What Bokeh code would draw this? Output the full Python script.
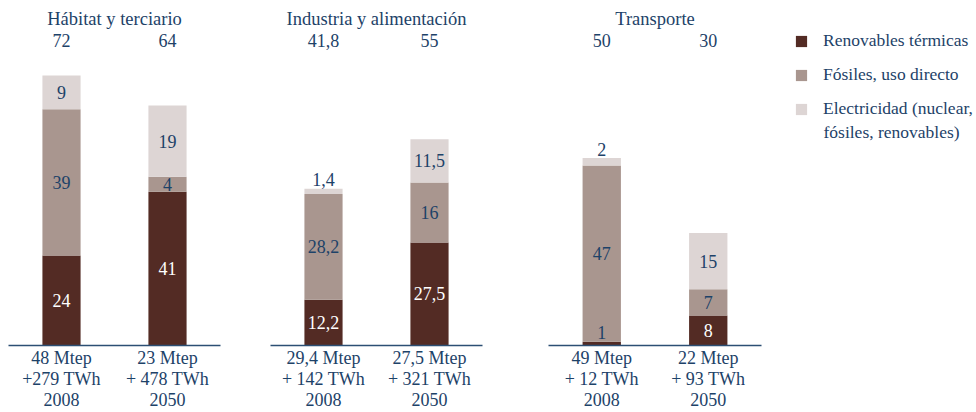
from bokeh.plotting import figure
from bokeh.models import ColumnDataSource, FactorRange, Range1d, LabelSet, Legend, LegendItem, Label
from bokeh.layouts import row
from bokeh.embed import file_html
from bokeh.resources import INLINE
from bokeh.core.properties import value

# ---------------- data ----------------
years = ["2008", "2050"]
sectors = ["Hábitat y terciario", "Industria y alimentación", "Transporte"]
renovables = [[24, 41], [12.2, 27.5], [1, 8]]
fosiles = [[39, 4], [28.2, 16], [47, 7]]
electricidad = [[9, 19], [1.4, 11.5], [2, 15]]
mtep = [["48 Mtep", "23 Mtep"], ["29,4 Mtep", "27,5 Mtep"], ["49 Mtep", "22 Mtep"]]
twh = [["+279 TWh", "+ 478 TWh"], ["+ 142 TWh", "+ 321 TWh"], ["+ 12 TWh", "+ 93 TWh"]]
series_names = ["Renovables térmicas", "Fósiles, uso directo", "Electricidad (nuclear,"]
series_name_cont = "fósiles, renovables)"

# ---------------- style ----------------
FONT = "Liberation Serif"
BLUE = "#1d4268"
COLORS = ["#532b24", "#a9968f", "#ddd5d4"]
Y_END = 84
SMALL = 3
H = 412

def fmt(v):
    return f"{v:g}".replace(".", ",")

def panel(i, width, left, right):
    cats = [f"{mtep[i][j]}\n{twh[i][j]}\n{yr}" for j, yr in enumerate(years)]
    p = figure(x_range=FactorRange(factors=cats, range_padding=0),
               y_range=Range1d(0, Y_END), width=width, height=H,
               output_backend="svg", toolbar_location=None,
               y_axis_location=None, min_border_left=left, min_border_right=right,
               min_border_top=30, min_border_bottom=0, title=sectors[i])
    p.title.align = "center"
    p.title.text_font = FONT
    p.title.text_font_size = "18.5px"
    p.title.text_font_style = "normal"
    p.title.text_color = BLUE
    p.title.standoff = 4
    p.outline_line_color = None
    p.xgrid.grid_line_color = None
    p.ygrid.grid_line_color = None
    p.background_fill_color = None
    p.border_fill_color = None

    src = ColumnDataSource(dict(cat=cats, ren=renovables[i], fos=fosiles[i], ele=electricidad[i]))
    p.vbar_stack(["ren", "fos", "ele"], x="cat", width=0.36, source=src,
                 fill_color=COLORS, line_color=None)

    # segment labels
    xs, ys, txt, cols = [], [], [], []
    for j, c in enumerate(cats):
        bottom = 0
        for k, vals in enumerate([renovables[i], fosiles[i], electricidad[i]]):
            v = vals[j]
            xs.append(c)
            txt.append(fmt(v))
            if v < SMALL:
                ys.append(bottom + v + 2.4)
                cols.append(BLUE)
            else:
                ys.append(bottom + v / 2)
                cols.append("white" if k == 0 else BLUE)
            bottom += v
    lsrc = ColumnDataSource(dict(x=xs, y=ys, t=txt, c=cols))
    p.text(x="x", y="y", text="t", text_color="c", source=lsrc, text_align="center",
           text_baseline="middle", text_font=value(FONT), text_font_size="18px")

    # totals
    tot = [fmt(round(renovables[i][j] + fosiles[i][j] + electricidad[i][j], 1)) for j in range(2)]
    tsrc = ColumnDataSource(dict(x=cats, y=[Y_END - 2.65] * 2, t=tot))
    p.add_layout(LabelSet(x="x", y="y", text="t", source=tsrc, text_align="center",
                          text_baseline="middle", text_font=FONT, text_font_size="18px",
                          text_color=BLUE))

    ax = p.xaxis[0]
    ax.major_label_text_font = FONT
    ax.major_label_text_font_size = "18px"
    ax.major_label_text_color = BLUE
    ax.major_label_text_line_height = 1.05
    ax.major_label_standoff = 2
    ax.axis_line_color = "#2c4f74"
    ax.axis_line_width = 1.5
    ax.major_tick_line_color = None
    ax.minor_tick_line_color = None
    ax.major_tick_out = 0
    ax.major_tick_in = 0
    ax.minor_tick_out = 0
    ax.minor_tick_in = 0
    return p

p1 = panel(0, 245, 8, 25)
p2 = panel(1, 270, 25, 33)
p3 = panel(2, 266, 33, 20)

# legend figure
pl = figure(width=195, height=H, output_backend="svg", toolbar_location=None,
            x_axis_location=None, y_axis_location=None, min_border_left=13,
            min_border_right=0, min_border_top=30, min_border_bottom=0,
            x_range=Range1d(0, 1), y_range=Range1d(0, 1))
pl.outline_line_color = None
pl.xgrid.grid_line_color = None
pl.ygrid.grid_line_color = None
items = []
for name, c in zip(series_names, COLORS):
    r = pl.vbar(x=[0.5], top=[0.5], bottom=[0.5], width=0, fill_color=c, line_color=None)
    items.append(LegendItem(label=name, renderers=[r]))
leg = Legend(items=items, location="top_left", margin=0, padding=2,
             glyph_width=14, glyph_height=14, label_standoff=15, spacing=13,
             label_text_font=FONT, label_text_font_size="17.5px", label_text_color=BLUE,
             border_line_color=None, background_fill_alpha=0)
pl.add_layout(leg)
pl.add_layout(Label(x=29, y=214, x_units="screen", y_units="screen",
                    text=series_name_cont, text_font=FONT, text_font_size="17.5px",
                    text_color=BLUE, text_baseline="middle", text_align="left"))

layout = row(p1, p2, p3, pl)
open("out.html", "w").write(file_html(layout, INLINE))
